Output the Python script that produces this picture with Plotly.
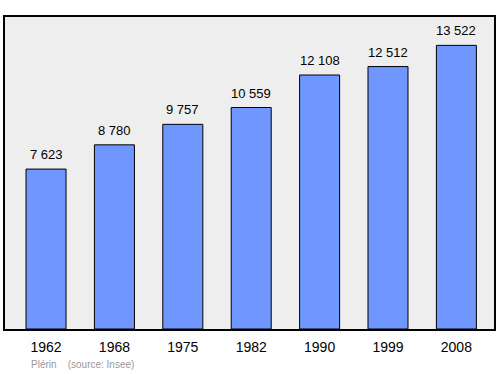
import plotly.graph_objects as go

years = ["1962", "1968", "1975", "1982", "1990", "1999", "2008"]
population = [7623, 8780, 9757, 10559, 12108, 12512, 13522]
labels = ["7 623", "8 780", "9 757", "10 559", "12 108", "12 512", "13 522"]

FONT = "Liberation Sans, Arial, sans-serif"
xs = list(range(len(years)))

fig = go.Figure(go.Bar(
    x=xs, y=population,
    marker=dict(color="#7096ff", line=dict(color="#000000", width=1)),
    width=0.585,
))
for x, v, t in zip(xs, population, labels):
    fig.add_annotation(x=x, y=v, text=t, showarrow=False, yanchor="bottom",
                       yshift=5, font=dict(family=FONT, size=13, color="#000000"))
fig.update_layout(
    width=500, height=374,
    margin=dict(l=5, r=6, t=17, b=45),
    paper_bgcolor="#ffffff", plot_bgcolor="#eeeeee",
    showlegend=False,
    font=dict(family=FONT, color="#000000"),
)
fig.update_xaxes(
    range=[-0.6, 6.55], tickmode="array", tickvals=xs, ticktext=years,
    tickfont=dict(size=14, family=FONT), showgrid=False, zeroline=False,
    showline=True, linecolor="#000000", linewidth=1.5, mirror=True, ticks="",
    ticklabelstandoff=4,
)
fig.update_yaxes(
    range=[0, 14874], showticklabels=False, showgrid=False, zeroline=False,
    showline=True, linecolor="#000000", linewidth=1.5, mirror=True, ticks="",
)
fig.add_annotation(
    text="Plérin&nbsp;&nbsp;&nbsp;&nbsp;(source: Insee)", xref="paper", yref="paper",
    x=0.05, y=-0.115, xanchor="left", yanchor="middle", showarrow=False,
    font=dict(size=10, color="#999999", family=FONT),
)
fig.write_html("out.html")
